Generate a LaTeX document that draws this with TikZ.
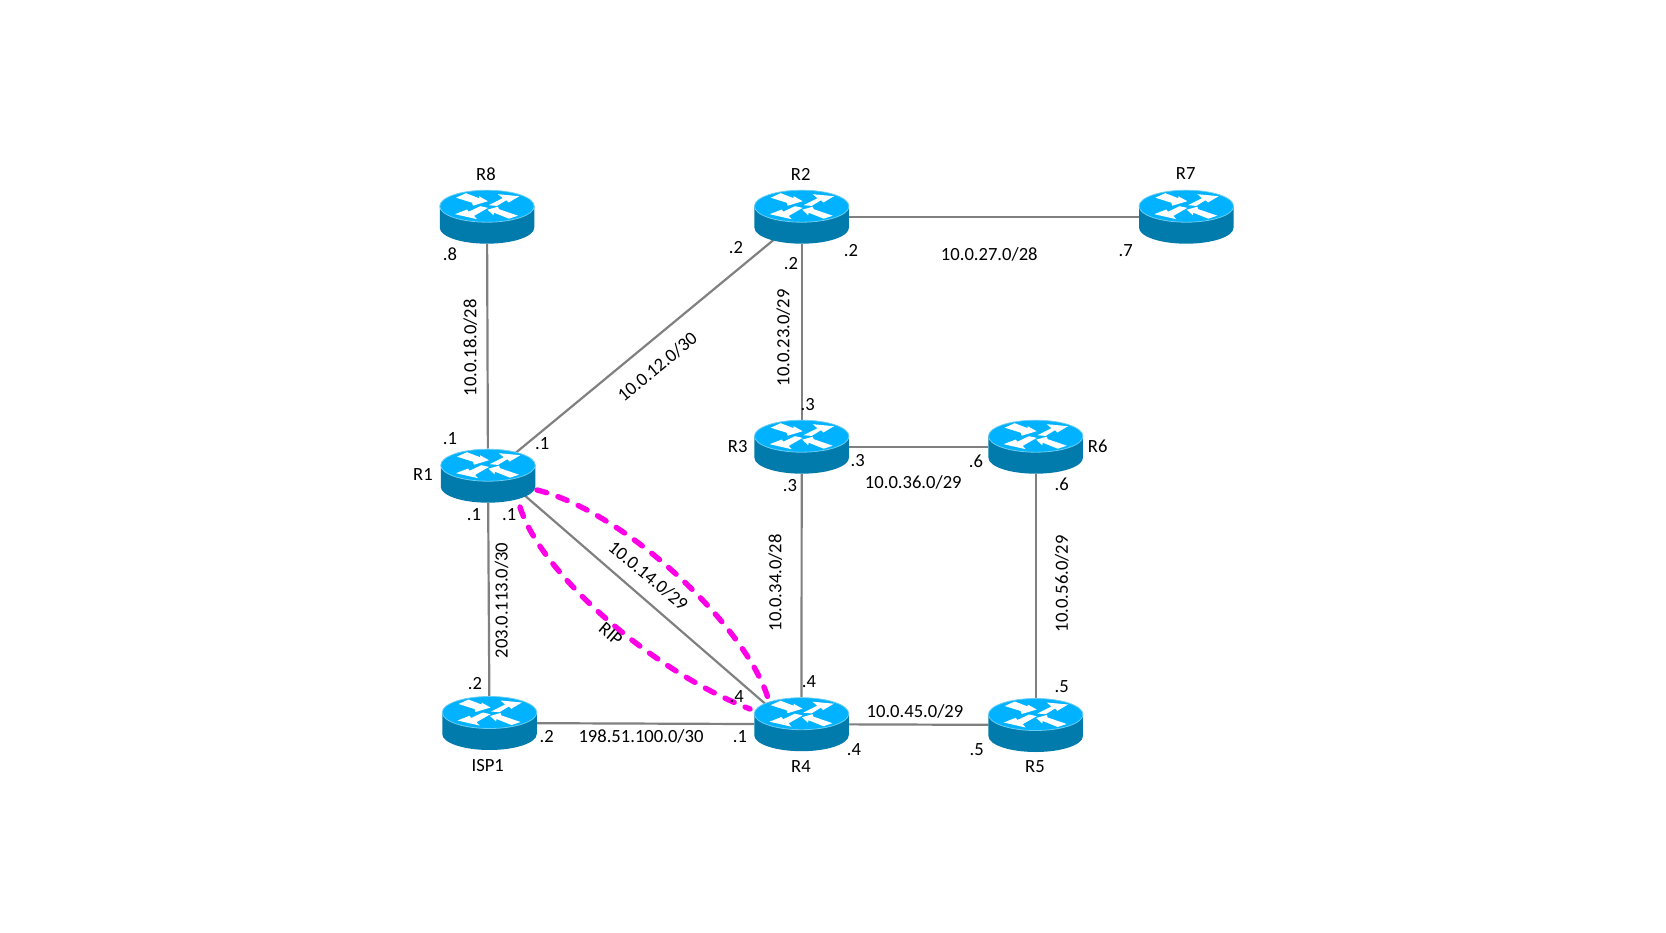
\documentclass[tikz,border=0pt]{standalone}
\usepackage{fontspec}
\setmainfont{Carlito}
\usetikzlibrary{shapes.geometric}
\definecolor{routertop}{HTML}{00B2FF}
\definecolor{routerside}{HTML}{007BAB}
\definecolor{routerrim}{HTML}{6CCDF2}
\definecolor{linkgray}{HTML}{808080}
\definecolor{ripmagenta}{HTML}{FF00E6}
\tikzset{
  routernode/.style={ellipse,minimum width=94.5pt,minimum height=54pt,inner sep=0pt},
  link/.style={draw=linkgray,line width=2.2pt},
  riplink/.style={draw=ripmagenta,line width=5.4pt,line cap=round,dash pattern=on 10pt off 12pt},
  lbl/.style={inner sep=0pt,font=\fontsize{18.6}{20}\selectfont}
}
\begin{document}
\begin{tikzpicture}[x=1pt,y=-1pt]
  \useasboundingbox (0,0) rectangle (1666,933);
  \foreach \r/\p in {R8/{487,216.7},R2/{801.7,216.7},R7/{1186.3,216.7},R1/{488,475.7},R3/{801.7,446.7},R6/{1035.7,446.7},ISP1/{489.5,723},R4/{801.5,724.2},R5/{1035.7,725}}
    \node[routernode] (\r) at (\p) {};

  \draw[link] (R8) -- (R1);
  \draw[link] (R1) -- (R2);
  \draw[link] (R1) -- (ISP1);
  \draw[link] ([yshift=12pt]R1.center) -- ([yshift=-11pt]R4.center);
  \draw[link] (R2) -- (R3);
  \draw[link] (R2) -- (R7);
  \draw[link] (R3) -- (R4);
  \draw[link] (R3) -- (R6);
  \draw[link] (R6) -- (R5);
  \draw[link] (R4) -- (R5);
  \draw[link] (ISP1) -- (R4);

  \foreach \r in {R8,R2,R7,R1,R3,R6,ISP1,R4,R5} {
    \begin{scope}[shift={(\r.center)}]
      \fill[routerside] (-47.25,-10.5) -- (-47.25,11) arc[start angle=180,end angle=360,x radius=47.25pt,y radius=16pt] -- (47.25,-10.5) -- cycle;
      \fill[routertop,draw=routerrim,line width=0.8pt] (0,-10.5) ellipse[x radius=47.25pt,y radius=16pt];
      \begin{scope}[shift={(0,-10.5)}]
        \fill[white] (-31,-8.5) -- (-21,-13) -- (-8,-8) -- (-8,-10) -- (1,-5) -- (-14,-0.5) -- (-15,-3.5) -- cycle;
        \fill[white] (1.7,-1) -- (15.7,-8) -- (11,-12) -- (32.3,-10) -- (21.7,-3.7) -- (19.3,-6) -- (10,-0.3) -- cycle;
        \fill[white] (-32,8) -- (-20,3.3) -- (-18.3,5.5) -- (-6.7,0) -- (1,1.7) -- (-13,9.7) -- (-10,13) -- cycle;
        \fill[white] (0.5,3.5) -- (11,0.5) -- (12,3) -- (31,9.5) -- (22,12.5) -- (7,6.5) -- (6.5,9) -- cycle;
      \end{scope}
    \end{scope}
  }

  \coordinate (ripAs) at (537,490);
  \coordinate (ripAe) at (768,698);
  \coordinate (ripBs) at (520,507);
  \coordinate (ripBe) at (750,709);
  \draw[riplink] (ripAs) .. controls (625,512) and (745,625) .. (ripAe);
  \draw[riplink] (ripBs) .. controls (540,572) and (650,670) .. (ripBe);

  \node[lbl] (nameR8) at (486,174) {R8};
  \node[lbl] (nameR2) at (800.7,174) {R2};
  \node[lbl] (nameR7) at (1185.7,174) {R7};
  \node[lbl] (nameR1) at (423,475) {R1};
  \node[lbl] (nameR3) at (737.7,446.7) {R3};
  \node[lbl] (nameR6) at (1097.7,446.7) {R6};
  \node[lbl] (nameISP) at (487.7,766) {ISP1};
  \node[lbl] (nameR4) at (801,766.7) {R4};
  \node[lbl] (nameR5) at (1035,766.7) {R5};

  \node[lbl] (ipRa) at (450,254) {.8};
  \node[lbl] (ipRb) at (736,247.3) {.2};
  \node[lbl] (ipRc) at (791,264) {.2};
  \node[lbl] (ipRd) at (851,251) {.2};
  \node[lbl] (ipRe) at (1125.7,250.7) {.7};
  \node[lbl] (ipRf) at (807.7,405) {.3};
  \node[lbl] (ipRg) at (450,438.3) {.1};
  \node[lbl] (ipRh) at (542.3,444) {.1};
  \node[lbl] (ipRi) at (857.7,460.7) {.3};
  \node[lbl] (ipRj) at (976,461) {.6};
  \node[lbl] (ipRk) at (790,486) {.3};
  \node[lbl] (ipRl) at (1061.7,484.3) {.6};
  \node[lbl] (ipRm) at (474,515) {.1};
  \node[lbl] (ipRn) at (509.3,515) {.1};
  \node[lbl] (ipRo) at (475,683.3) {.2};
  \node[lbl] (ipRp) at (546.7,736.7) {.2};
  \node[lbl] (ipRq) at (740,736.7) {.1};
  \node[lbl] (ipRr) at (736.7,696.7) {.4};
  \node[lbl] (ipRs) at (809,681.7) {.4};
  \node[lbl] (ipRt) at (854,749.3) {.4};
  \node[lbl] (ipRu) at (976.7,749.3) {.5};
  \node[lbl] (ipRv) at (1061.7,686.7) {.5};

  \node[lbl,rotate=90] (net18) at (470.3,347.7) {10.0.18.0/28};
  \node[lbl,rotate=39.5] (net12) at (657.3,366.7) {10.0.12.0/30};
  \node[lbl,rotate=90] (net23) at (783.3,337.7) {10.0.23.0/29};
  \node[lbl] (net27) at (989.3,254.3) {10.0.27.0/28};
  \node[lbl] (net36) at (913.3,482.7) {10.0.36.0/29};
  \node[lbl,rotate=90] (net34) at (775.3,582.7) {10.0.34.0/28};
  \node[lbl,rotate=90] (net56) at (1061.7,583.7) {10.0.56.0/29};
  \node[lbl] (net45) at (915,711.7) {10.0.45.0/29};
  \node[lbl] (netISP) at (641,736.7) {198.51.100.0/30};
  \node[lbl,rotate=90] (netPub) at (501.5,600.5) {203.0.113.0/30};
  \node[lbl,rotate=-39.5] (net14) at (648.3,576) {10.0.14.0/29};
  \node[lbl,rotate=-40] (nameRIP) at (610.7,634) {RIP};
\end{tikzpicture}
\end{document}
